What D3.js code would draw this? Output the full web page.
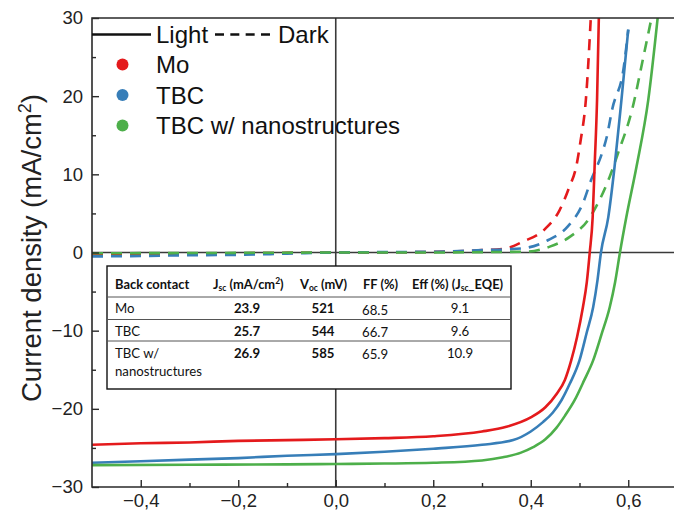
<!DOCTYPE html>
<html>
<head>
<meta charset="utf-8">
<script src="https://cdn.jsdelivr.net/npm/d3@7"></script>
<style>
  html, body { margin: 0; padding: 0; background: #fff; }
  svg { display: block; }
</style>
</head>
<body>
<svg id="chart" width="674" height="517"></svg>
<script>
// ---------------- DATA ----------------
const xTicks = [-0.4, -0.2, 0.0, 0.2, 0.4, 0.6];
const xMinorTicks = [-0.3, -0.1, 0.1, 0.3, 0.5];
const yTicks = [-30, -20, -10, 0, 10, 20, 30];
const yMinorTicks = [-25, -15, -5, 5, 15, 25];

const seriesNames = ["Mo", "TBC", "TBC w/ nanostructures"];
const seriesColors = ["#e41a1c", "#377eb8", "#4daf4a"];

// Light J-V curves [V (V), J (mA/cm2)]
const moLight = [[-0.5,-24.6],[-0.4,-24.4],[-0.3,-24.3],[-0.2,-24.1],[-0.1,-24.0],[0,-23.9],[0.1,-23.75],[0.2,-23.5],[0.3,-22.9],[0.35,-22.3],[0.4,-21.1],[0.43,-19.8],[0.453,-18.1],[0.47,-16.3],[0.483,-13.8],[0.495,-10.8],[0.507,-7],[0.515,-3.8],[0.521,0],[0.527,4.5],[0.531,11],[0.536,19.5],[0.54,31]];
const tbcLight = [[-0.5,-26.9],[-0.4,-26.7],[-0.3,-26.5],[-0.2,-26.3],[-0.1,-26.0],[0,-25.8],[0.1,-25.5],[0.2,-25.1],[0.3,-24.6],[0.364,-24.0],[0.4,-22.9],[0.425,-21.7],[0.445,-20.5],[0.463,-18.9],[0.48,-16.8],[0.5,-13.8],[0.515,-10.2],[0.528,-7],[0.537,-3.5],[0.544,0],[0.559,4.5],[0.572,11],[0.586,19.5],[0.6,28.5]];
const nanoLight = [[-0.5,-27.2],[-0.3,-27.15],[-0.1,-27.1],[0,-27.05],[0.1,-27.0],[0.2,-26.9],[0.3,-26.6],[0.343,-26.2],[0.38,-25.6],[0.405,-24.9],[0.43,-23.9],[0.453,-22.4],[0.47,-20.9],[0.49,-18.9],[0.51,-16.3],[0.528,-13.8],[0.545,-10.5],[0.562,-7],[0.573,-3.8],[0.583,0],[0.596,4.5],[0.617,11],[0.641,19.5],[0.662,31]];

// Dark J-V curves
const moDark = [[-0.5,-0.25],[-0.3,-0.15],[-0.1,-0.05],[0,0],[0.1,0.02],[0.2,0.08],[0.25,0.15],[0.3,0.3],[0.347,0.5],[0.384,1.4],[0.429,3.0],[0.459,5.4],[0.478,8.2],[0.494,11.2],[0.502,14.2],[0.513,19.5],[0.524,31]];
const tbcDark = [[-0.5,-0.5],[-0.4,-0.45],[-0.3,-0.35],[-0.2,-0.3],[-0.1,-0.15],[0,0],[0.1,0.05],[0.2,0.1],[0.3,0.3],[0.35,0.4],[0.391,0.6],[0.436,1.6],[0.477,3.4],[0.507,6.3],[0.524,9.3],[0.545,12.5],[0.556,14.8],[0.567,18.3],[0.591,23.8],[0.6,28.5]];
const nanoDark = [[-0.5,-0.1],[-0.2,-0.05],[0,0],[0.2,0.0],[0.3,0.05],[0.39,0.1],[0.439,0.75],[0.48,2.0],[0.518,4.2],[0.541,6.7],[0.562,9.7],[0.579,12.7],[0.608,18.3],[0.63,24.7],[0.651,31]];

// Table
const tableHeader = ["Back contact", "Jsc (mA/cm2)", "Voc (mV)", "FF (%)", "Eff (%) (Jsc_EQE)"];
const tableContact = ["Mo", "TBC", "TBC w/ nanostructures"];
const tableJsc = ["23.9", "25.7", "26.9"];
const tableVoc = ["521", "544", "585"];
const tableFF = ["68.5", "66.7", "65.9"];
const tableEff = ["9.1", "9.6", "10.9"];

// ---------------- CHART ----------------
const svg = d3.select("#chart");
const FONT = "'Liberation Sans', Arial, sans-serif";
const TFONT = "Lato, 'Open Sans', sans-serif";

const x = d3.scaleLinear().domain([-0.5, 0.7]).range([92, 677]);
const y = d3.scaleLinear().domain([-30, 30]).range([487, 18]);

svg.append("defs").append("clipPath").attr("id", "plotclip")
  .append("rect").attr("x", x(-0.5)).attr("y", y(30))
  .attr("width", x(0.7) - x(-0.5)).attr("height", y(-30) - y(30));

// zero lines
svg.append("line").attr("x1", x(0)).attr("x2", x(0)).attr("y1", y(30)).attr("y2", y(-30))
  .attr("stroke", "#3a3a3a").attr("stroke-width", 1.6);
svg.append("line").attr("x1", x(-0.5)).attr("x2", x(0.7)).attr("y1", y(0)).attr("y2", y(0))
  .attr("stroke", "#3a3a3a").attr("stroke-width", 1.6);

const line = d3.line().x(d => x(d[0])).y(d => y(d[1])).curve(d3.curveMonotoneX);
const curvesG = svg.append("g").attr("clip-path", "url(#plotclip)");
const darkSeries = [moDark, tbcDark, nanoDark];
const lightSeries = [moLight, tbcLight, nanoLight];
darkSeries.forEach((s, i) => {
  curvesG.append("path").attr("d", line(s)).attr("fill", "none")
    .attr("stroke", seriesColors[i]).attr("stroke-width", 2.6)
    .attr("stroke-dasharray", "11,8");
});
lightSeries.forEach((s, i) => {
  curvesG.append("path").attr("d", line(s)).attr("fill", "none")
    .attr("stroke", seriesColors[i]).attr("stroke-width", 2.6);
});

// frame
svg.append("path")
  .attr("d", `M${x(0.7)},${y(30)}H${x(-0.5)}V${y(-30)}H${x(0.7)}`)
  .attr("fill", "none").attr("stroke", "#2a2a2a").attr("stroke-width", 1.6);

// axes
const fmtX = d => d3.format(".1f")(d).replace(".", ",");
const xAxis = svg.append("g").attr("transform", `translate(0,${y(-30)})`)
  .call(d3.axisBottom(x).tickValues(xTicks).tickSizeInner(-7).tickSizeOuter(0).tickPadding(7).tickFormat(fmtX));
const xMinor = svg.append("g").attr("transform", `translate(0,${y(-30)})`)
  .call(d3.axisBottom(x).tickValues(xMinorTicks).tickSizeInner(-4).tickSizeOuter(0).tickFormat(""));
const yAxis = svg.append("g").attr("transform", `translate(${x(-0.5)},0)`)
  .call(d3.axisLeft(y).tickValues(yTicks).tickSizeInner(-7).tickSizeOuter(0).tickPadding(9).tickFormat(d3.format("d")));
const yMinor = svg.append("g").attr("transform", `translate(${x(-0.5)},0)`)
  .call(d3.axisLeft(y).tickValues(yMinorTicks).tickSizeInner(-4).tickSizeOuter(0).tickFormat(""));
[xAxis, xMinor, yAxis, yMinor].forEach(g => {
  g.select(".domain").remove();
  g.selectAll(".tick line").attr("stroke", "#2a2a2a").attr("stroke-width", 1.4);
  g.selectAll(".tick text").attr("font-family", FONT).attr("font-size", 18.5).attr("fill", "#222");
});

// y axis title
const yt = svg.append("text")
  .attr("transform", `translate(41,248) rotate(-90)`)
  .attr("text-anchor", "middle")
  .attr("font-family", FONT).attr("font-size", 27.5).attr("fill", "#222");
yt.append("tspan").text("Current density (mA/cm");
yt.append("tspan").attr("font-size", 18).attr("baseline-shift", "super").text("2");
yt.append("tspan").text(")");

// legend
const lg = svg.append("g").attr("font-family", FONT).attr("font-size", 24).attr("fill", "#111");
lg.append("line").attr("x1", 92).attr("x2", 151).attr("y1", 34.5).attr("y2", 34.5)
  .attr("stroke", "#111").attr("stroke-width", 2.6);
lg.append("text").attr("x", 156).attr("y", 43).text("Light");
lg.append("line").attr("x1", 215).attr("x2", 270).attr("y1", 34.5).attr("y2", 34.5)
  .attr("stroke", "#111").attr("stroke-width", 2.6).attr("stroke-dasharray", "9,6.33");
lg.append("text").attr("x", 278).attr("y", 43).text("Dark");
seriesNames.forEach((n, i) => {
  const cy = 64.5 + i * 30.5;
  lg.append("circle").attr("cx", 122.5).attr("cy", cy).attr("r", 6).attr("fill", seriesColors[i]);
  lg.append("text").attr("x", 156).attr("y", cy + 8.5).text(n);
});

// table
const tb = svg.append("g").attr("font-family", TFONT).attr("fill", "#111");
const tX = 107, tY = 266, tW = 404, tH = 123;
tb.append("rect").attr("x", tX).attr("y", tY).attr("width", tW).attr("height", tH)
  .attr("fill", "#fff").attr("stroke", "#111").attr("stroke-width", 1.4);
[297, 319.5, 341].forEach(ly => {
  tb.append("line").attr("x1", tX).attr("x2", tX + tW).attr("y1", ly).attr("y2", ly)
    .attr("stroke", "#555").attr("stroke-width", 1);
});
const hdrY = 289;
const hs = 12.9;
const h = tb.append("g").attr("font-weight", "bold").attr("font-size", hs);
h.append("text").attr("x", 115).attr("y", hdrY).text(tableHeader[0]);
const h1 = h.append("text").attr("x", 213).attr("y", hdrY);
h1.append("tspan").text("J");
h1.append("tspan").attr("font-size", 8.5).attr("dy", 2).text("sc");
h1.append("tspan").attr("dy", -2).text(" (mA/cm");
h1.append("tspan").attr("font-size", 8.5).attr("dy", -5).text("2");
h1.append("tspan").attr("dy", 5).text(")");
const h2 = h.append("text").attr("x", 300).attr("y", hdrY);
h2.append("tspan").text("V");
h2.append("tspan").attr("font-size", 8.5).attr("dy", 2).text("oc");
h2.append("tspan").attr("dy", -2).text(" (mV)");
h.append("text").attr("x", 363).attr("y", hdrY).text(tableHeader[3]);
const h4 = h.append("text").attr("x", 412).attr("y", hdrY);
h4.append("tspan").text("Eff (%) (J");
h4.append("tspan").attr("font-size", 8.5).attr("dy", 2).text("sc");
h4.append("tspan").attr("dy", -2).text("_EQE)");

const rowY = [313, 335.5, 357.5];
const ds = 13.2;
tableContact.forEach((c, i) => {
  if (c === "TBC w/ nanostructures") {
    tb.append("text").attr("x", 115).attr("y", rowY[i]).attr("font-size", ds).text("TBC w/");
    tb.append("text").attr("x", 115).attr("y", rowY[i] + 18.5).attr("font-size", ds).text("nanostructures");
  } else {
    tb.append("text").attr("x", 115).attr("y", rowY[i]).attr("font-size", ds).text(c);
  }
  tb.append("text").attr("x", 247).attr("y", rowY[i]).attr("text-anchor", "middle")
    .attr("font-size", ds).attr("font-weight", "bold").text(tableJsc[i]);
  tb.append("text").attr("x", 323).attr("y", rowY[i]).attr("text-anchor", "middle")
    .attr("font-size", ds).attr("font-weight", "bold").text(tableVoc[i]);
  tb.append("text").attr("x", 362).attr("y", rowY[i] + 1.5)
    .attr("font-size", ds).text(tableFF[i]);
  tb.append("text").attr("x", 460).attr("y", rowY[i]).attr("text-anchor", "middle")
    .attr("font-size", ds).text(tableEff[i]);
});
</script>
</body>
</html>
